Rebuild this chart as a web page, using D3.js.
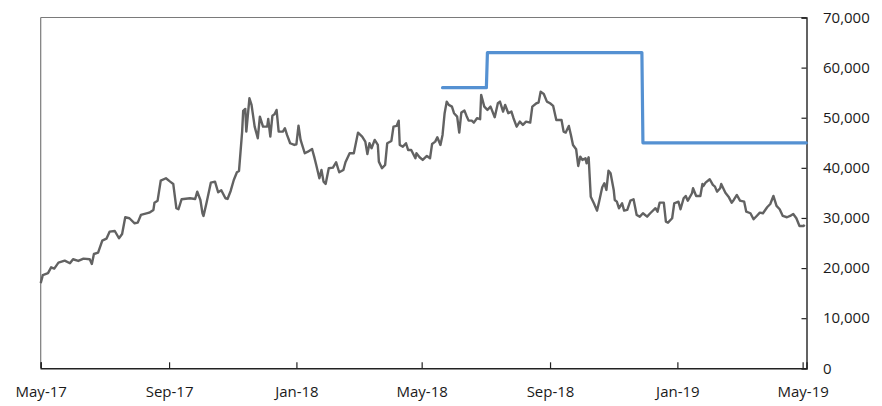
<!DOCTYPE html>
<html>
<head>
<meta charset="utf-8">
<script src="https://cdn.jsdelivr.net/npm/d3@7"></script>
<style>
  html, body { margin: 0; padding: 0; background: #ffffff; }
  svg { display: block; }
  .tick text { font-family: "Open Sans", "Noto Sans", sans-serif; font-size: 15px; fill: #1a1a1a; }
</style>
</head>
<body>
<svg id="chart" width="882" height="406"></svg>
<script>
// ---- data ----
const startDate = "2017-05-01";
const endDate = "2019-05-04T17:00:00Z";

// gray series: days since startDate and values
const priceDays = [0,2,7,10,13,17,23,28,31,36,41,47,49,51,55,59,63,66,71,75,78,81,85,90,93,96,104,108,109,112,115,120,124,127,130,132,135,143,148,150,153,155,156,159,163,167,170,173,177,179,182,185,188,190,193,194,196,197,200,202,205,208,210,213,217,218,220,222,224,226,228,232,234,236,239,243,245,247,249,253,256,260,262,264,267,269,271,273,276,280,283,286,290,292,296,300,304,308,311,313,315,317,320,323,324,327,330,332,336,338,341,343,344,347,350,352,355,359,360,363,366,370,373,375,378,380,383,385,387,389,391,394,396,399,401,403,406,408,410,413,415,418,421,422,425,428,431,435,438,440,443,445,448,451,453,456,459,462,465,469,471,475,477,479,482,485,488,491,494,499,501,503,506,508,510,513,515,517,519,522,523,525,527,530,533,535,538,540,542,544,546,549,550,552,554,557,559,562,565,568,571,574,577,581,584,589,591,593,597,599,601,605,607,611,613,616,618,620,624,625,628,632,634,635,637,641,644,646,648,651,652,656,659,662,664,667,670,674,676,680,683,686,689,692,696,699,702,705,708,711,715,718,721,724,727,731,732];
const priceValues = [17000,18600,19000,20150,19900,21080,21480,20960,21760,21420,21880,21760,20820,22810,23070,25470,25870,27270,27400,25950,26800,30140,29940,28940,29060,30600,31060,31600,33050,33450,37450,37920,37250,36790,31940,31740,33730,33930,33790,35250,33590,30940,30400,33130,37050,37250,35130,35530,33930,33790,35390,37580,39120,39380,47230,51360,51760,47230,53890,52560,48220,45910,50220,48220,48220,49760,46230,50420,50700,51560,47230,47230,47900,46570,44910,44570,44710,48420,45570,42910,43230,43770,42240,40580,37920,39580,37250,36790,39920,40040,41120,39120,39580,41120,42910,42910,47030,46230,45230,42770,44910,43910,45570,44570,41240,39920,40580,44910,45370,48220,48360,49420,44570,44230,44910,43570,43570,41910,42910,42110,41580,42380,41910,44770,45230,46110,44570,46570,50900,53220,52560,52220,50900,50220,47030,51020,51420,50360,49420,49420,49020,49900,49700,54550,52220,51560,52220,50100,52890,53220,51220,52560,50900,51220,49900,48220,49220,48560,49220,49020,52220,52890,53010,55210,54750,53220,52890,52360,49560,49560,47230,47030,48360,46570,44570,43710,40380,42240,41580,41910,40920,42110,34250,32930,31460,33250,36130,36930,35590,39440,38920,35590,33590,33250,31940,32930,31460,31600,33450,33730,30600,30260,30940,30260,30940,31940,31260,33050,33050,29260,29060,29940,32930,33250,31740,33930,34390,33450,34930,35930,34390,34390,36790,36390,37050,37720,36590,36250,35250,35930,36790,35050,34250,33050,33590,34590,33450,33250,31260,30940,29740,30400,31060,30940,32140,32790,34390,32400,31740,30400,30140,30400,30800,29940,28400,28400,28600];

// blue step series
const targetDays = [385, 427, 428, 576, 577, 733.5];
const targetValues = [56000, 56000, 63000, 63000, 45000, 45000];

const yTickValues = [0, 10000, 20000, 30000, 40000, 50000, 60000, 70000];
const xTickDates = ["2017-05-01","2017-09-01","2018-01-01","2018-05-01","2018-09-01","2019-01-01","2019-05-01"];

// ---- chart ----
const svg = d3.select("#chart");
const margin = { left: 40.7, right: 882 - 806.5, top: 17.5, bottom: 406 - 368.3 };
const W = 882, H = 406;

const t0 = new Date(startDate + "T00:00:00Z");
const dayToDate = d => new Date(t0.getTime() + d * 86400000);

const x = d3.scaleUtc()
  .domain([t0, new Date(endDate)])
  .range([margin.left, W - margin.right]);
const y = d3.scaleLinear()
  .domain([0, 70000])
  .range([H - margin.bottom, margin.top]);

// frame: top and left borders
svg.append("line")
  .attr("x1", margin.left).attr("x2", W - margin.right)
  .attr("y1", margin.top).attr("y2", margin.top)
  .attr("stroke", "#7a7a7a").attr("stroke-width", 1.2);
svg.append("line")
  .attr("x1", margin.left).attr("x2", margin.left)
  .attr("y1", margin.top).attr("y2", H - margin.bottom)
  .attr("stroke", "#7a7a7a").attr("stroke-width", 1.2);

// x axis
const xAxis = d3.axisBottom(x)
  .tickValues(xTickDates.map(s => new Date(s + "T00:00:00Z")))
  .tickFormat(d3.utcFormat("%b-%y"))
  .tickSize(-6)
  .tickPadding(18.5);
const gx = svg.append("g")
  .attr("transform", `translate(0,${H - margin.bottom})`)
  .call(xAxis);
gx.select(".domain").attr("stroke", "#222").attr("stroke-width", 1.4);
gx.selectAll(".tick line").attr("stroke", "#222").attr("stroke-width", 1.2);

// y axis (right)
const yAxis = d3.axisRight(y)
  .tickValues(yTickValues)
  .tickFormat(d3.format(","))
  .tickSize(-5)
  .tickPadding(16.5);
const gy = svg.append("g")
  .attr("transform", `translate(${W - margin.right},0)`)
  .call(yAxis);
gy.select(".domain").attr("stroke", "#222").attr("stroke-width", 1.4);
gy.selectAll(".tick line").attr("stroke", "#222").attr("stroke-width", 1.2);
gy.selectAll(".tick text").attr("text-anchor", "start");

// gray line
const priceData = priceDays.map((d, i) => ({ date: dayToDate(d), value: priceValues[i] }));
const line = d3.line().x(d => x(d.date)).y(d => y(d.value));
svg.append("path")
  .datum(priceData)
  .attr("fill", "none")
  .attr("stroke", "#626262")
  .attr("stroke-width", 2.4)
  .attr("stroke-linejoin", "round")
  .attr("d", line);

// blue step line
const targetData = targetDays.map((d, i) => ({ date: dayToDate(d), value: targetValues[i] }));
svg.append("path")
  .datum(targetData)
  .attr("fill", "none")
  .attr("stroke", "#5591d2")
  .attr("stroke-width", 3.2)
  .attr("stroke-linejoin", "round")
  .attr("stroke-linecap", "round")
  .attr("d", line);
</script>
</body>
</html>
